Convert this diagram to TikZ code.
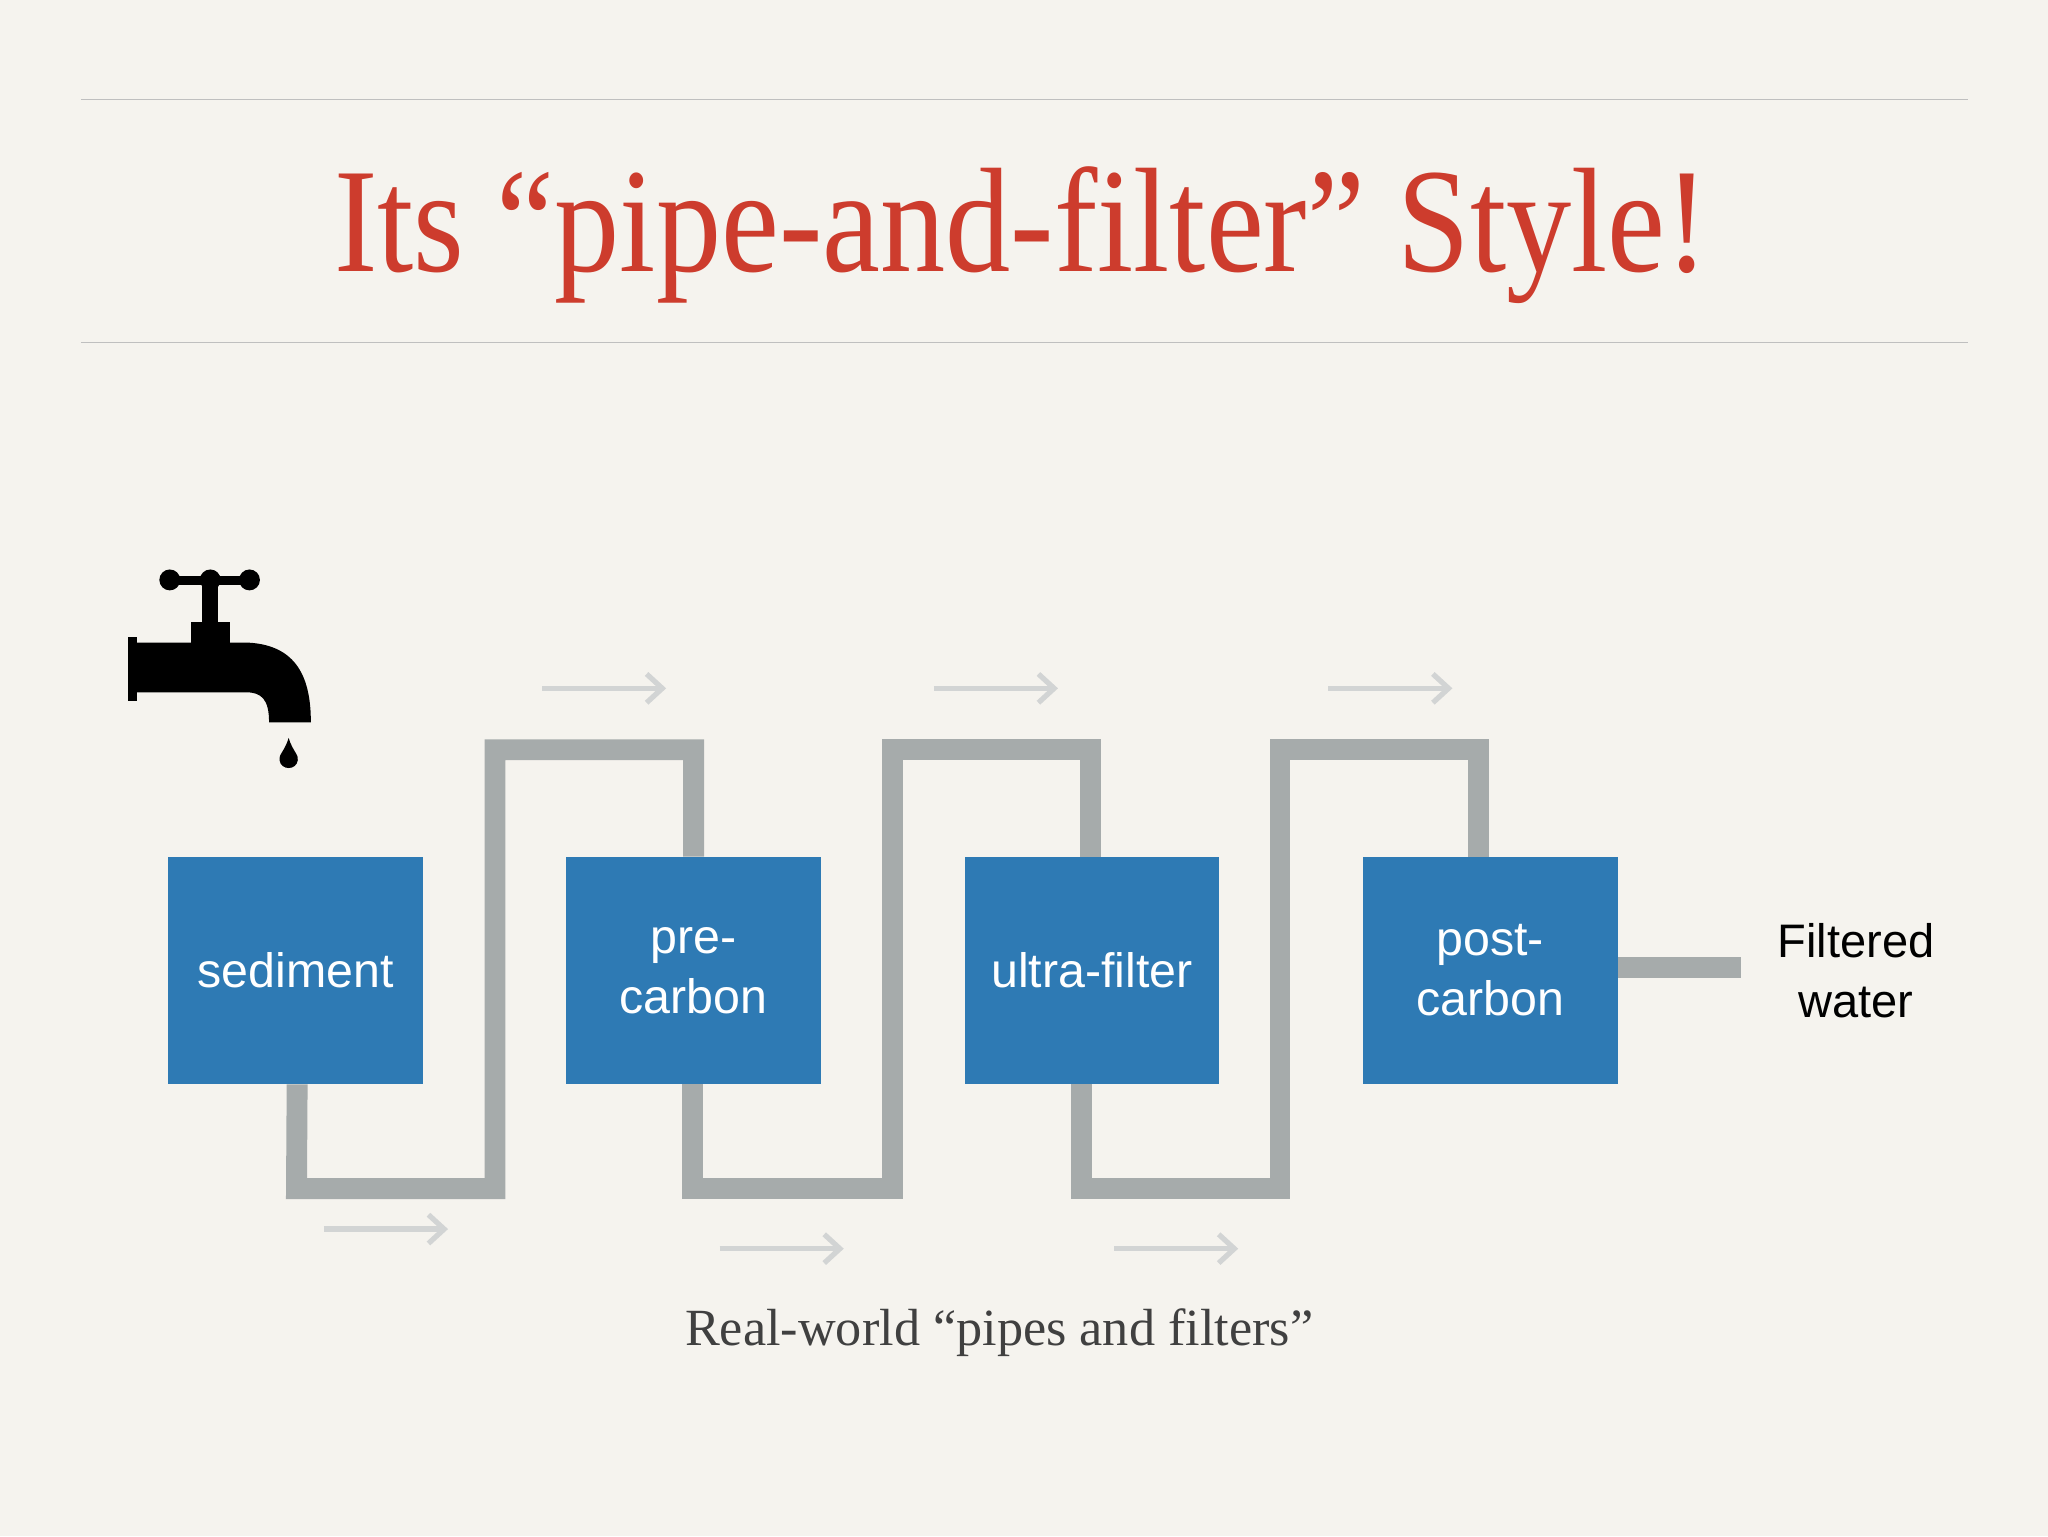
\documentclass[tikz,border=0pt]{standalone}
\usepackage{fontspec}
\setmainfont{Liberation Serif}
\setsansfont{Liberation Sans}
\usetikzlibrary{calc,arrows.meta}
\definecolor{bg}{RGB}{245,243,238}
\definecolor{titlered}{RGB}{205,60,45}
\definecolor{boxblue}{RGB}{46,122,180}
\definecolor{pipegray}{RGB}{166,171,171}
\definecolor{arrgray}{RGB}{210,212,212}
\tikzset{
 filt/.style={fill=boxblue,minimum width=195pt,minimum height=174pt,inner sep=0pt,text=white,align=center,font=\sffamily\fontsize{37}{46}\selectfont},
 pipe/.style={draw=pipegray,line width=16pt,line join=miter},
 flow/.style={draw=arrgray,line width=4pt,-{Straight Barb[length=12pt,width=22pt]}},
 rule/.style={draw=black!25,line width=0.8pt}
}
\begin{document}
\begin{tikzpicture}[x=1pt,y=-1pt]
\fill[bg] (0,0) rectangle (1568,1176);
\useasboundingbox (0,0) rectangle (1568,1176);
\draw[rule] (62,76) -- (1507,76);
\draw[rule] (62,262) -- (1507,262);
\node[text=titlered,font=\fontsize{114}{120}\selectfont,anchor=base,xscale=0.875] (title) at (782,208) {Its “pipe-and-filter” Style!};
% boxes
\node[filt] (sed) at (226.5,743) {sediment};
\node[filt] (pre) at (531,743) {pre-\\carbon};
\node[filt] (ultra) at (836,743) {ultra-filter};
\node[filt] (post) at (1141,743) {post-\\carbon};
\coordinate (out) at (1333,741);
% pipes
\draw[pipe] ([xshift=1pt]sed.south) -- (227,910) -- (379,910) -- (379,574) -- (531,574) -- (pre.north);
\draw[pipe] ([xshift=-1pt]pre.south) -- (530,910) -- (683,910) -- (683,574) -- (835,574) -- ([xshift=-1pt]ultra.north);
\draw[pipe] ([xshift=-8pt]ultra.south) -- (828,910) -- (980,910) -- (980,574) -- (1132,574) -- ([xshift=-9pt]post.north);
\draw[pipe] (post.east|-out) -- (out);
\node[font=\sffamily\fontsize{36}{46}\selectfont,align=center] (fw) at (1421,743) {Filtered\\water};
% flow arrows
\coordinate (a1) at (415,527); \coordinate (b1) at (510,527);
\coordinate (a2) at (715,527); \coordinate (b2) at (810,527);
\coordinate (a3) at (1017,527); \coordinate (b3) at (1112,527);
\coordinate (c1) at (248,941); \coordinate (d1) at (343,941);
\coordinate (c2) at (551,956); \coordinate (d2) at (646,956);
\coordinate (c3) at (853,956); \coordinate (d3) at (948,956);
\foreach \p/\q in {a1/b1,a2/b2,a3/b3,c1/d1,c2/d2,c3/d3} \draw[flow] (\p) -- (\q);
\node[text=black!75,font=\fontsize{40}{44}\selectfont,anchor=base] (cap) at (765,1030) {Real-world “pipes and filters”};
% faucet
\fill[black] (125,441) rectangle (197,448);
\fill[black] (130,444) circle (8);
\fill[black] (161,444) circle (8);
\fill[black] (191,444) circle (8);
\fill[black] (155,448) rectangle (167,478);
\fill[black] (146,476) rectangle (176,492);
\fill[black] (98,488) rectangle (105,537);
\fill[black] (104,492) -- (190,492) .. controls (228,494) and (238,520) .. (238,553) -- (206,553) .. controls (206,535) and (200,530) .. (188,530) -- (104,530) -- cycle;
\fill[black] (221,565) .. controls (218,575) and (213,578) .. (214,582) .. controls (215,590) and (227,590) .. (228,582) .. controls (229,578) and (224,575) .. (221,565) -- cycle;
\end{tikzpicture}
\end{document}
